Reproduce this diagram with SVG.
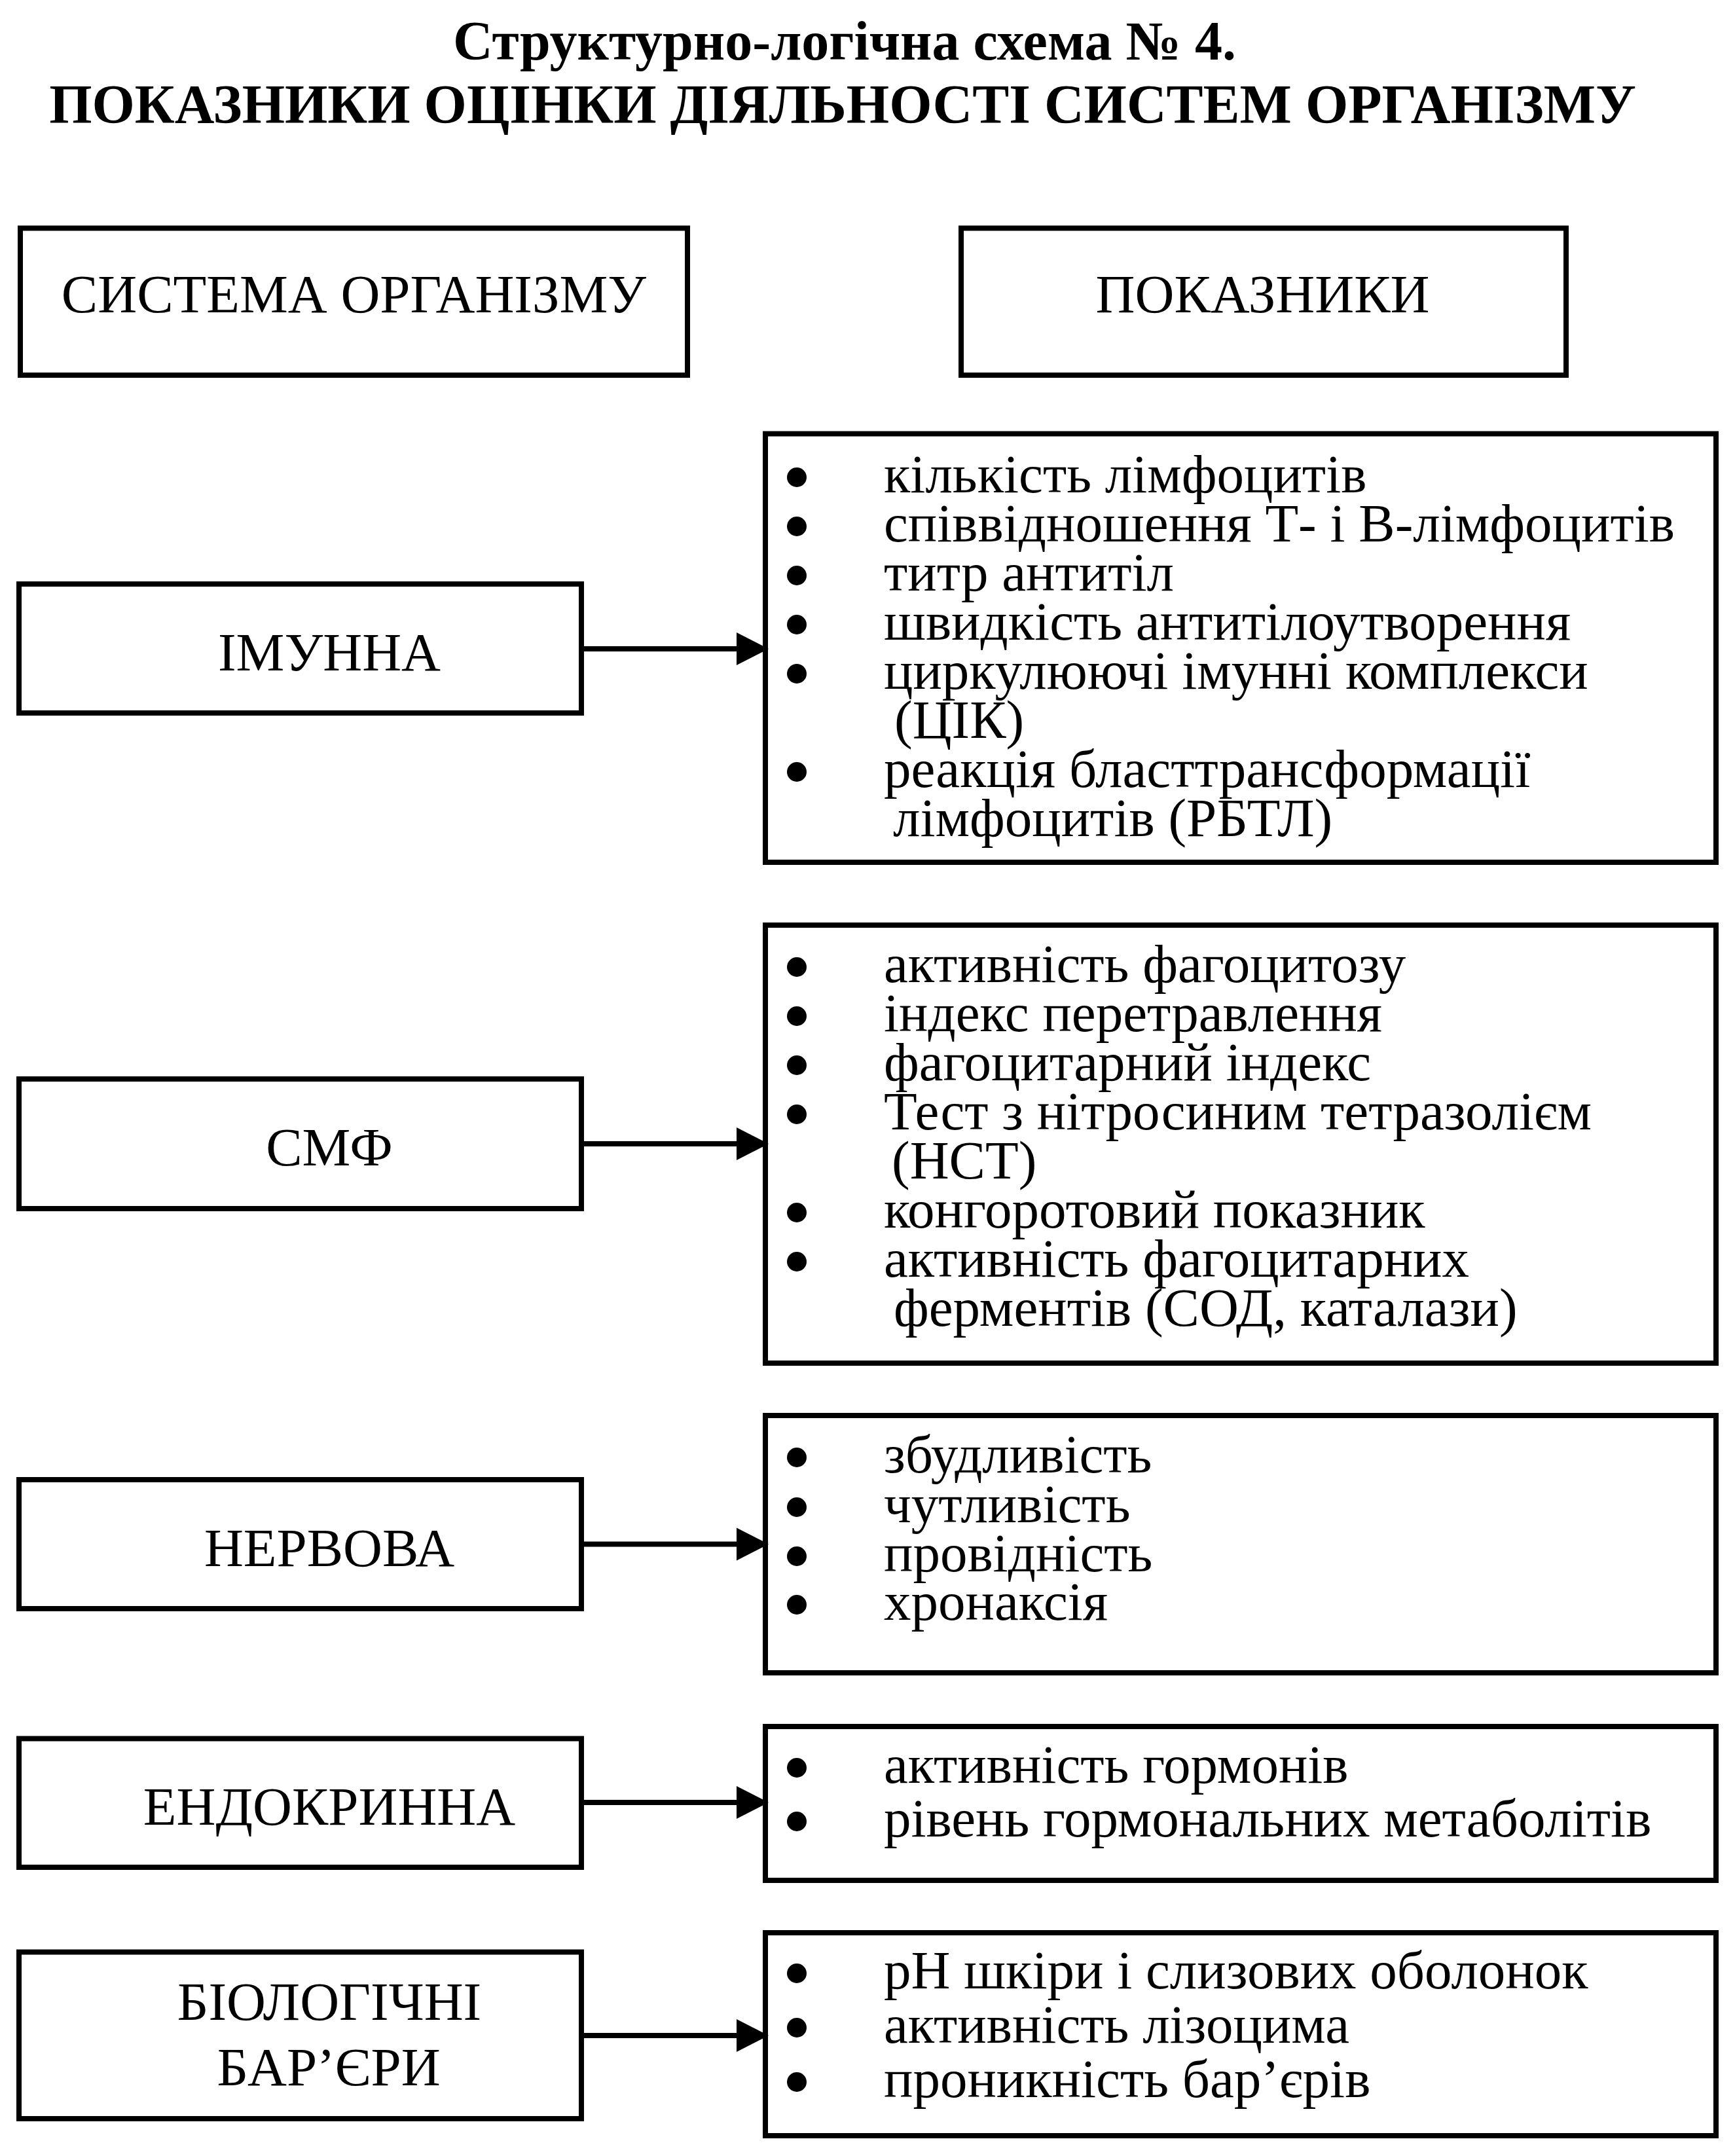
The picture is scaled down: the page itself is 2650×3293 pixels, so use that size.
<svg xmlns="http://www.w3.org/2000/svg" width="2650" height="3293" viewBox="0 0 2650 3293">
<style>
.box{fill:none;stroke:#000;stroke-width:8}
.t{font-family:"Liberation Serif","Times New Roman",serif;font-size:83px;fill:#000}
.c{text-anchor:middle}
.h{font-family:"Liberation Serif","Times New Roman",serif;font-size:84px;font-weight:bold;fill:#000;text-anchor:middle}
.conn line{stroke:#000;stroke-width:8}
.conn polygon{fill:#000}
.b{fill:#000}
</style>
<rect width="2650" height="3293" fill="#fff"/>
<g id="title">
<text class="h" x="1290" y="91">Структурно-логічна схема № 4.</text>
<text class="h" x="1287" y="188">ПОКАЗНИКИ ОЦІНКИ ДІЯЛЬНОСТІ СИСТЕМ ОРГАНІЗМУ</text>
</g>
<g id="hdr-system">
<rect class="box" x="31" y="348.5" width="1019" height="224.5"/>
<text class="t c" x="540.5" y="477">СИСТЕМА ОРГАНІЗМУ</text>
</g>
<g id="hdr-indicators">
<rect class="box" x="1468" y="348.5" width="924" height="224.5"/>
<text class="t c" x="1928.5" y="477">ПОКАЗНИКИ</text>
</g>
<g id="sys-immune">
<rect class="box" x="29" y="892" width="859" height="197"/>
<text class="t c" x="503" y="1024">ІМУННА</text>
</g>
<g id="sys-smf">
<rect class="box" x="29" y="1648" width="859" height="198"/>
<text class="t c" x="503" y="1779.5">СМФ</text>
</g>
<g id="sys-nerve">
<rect class="box" x="29" y="2260" width="859" height="197"/>
<text class="t c" x="503" y="2392">НЕРВОВА</text>
</g>
<g id="sys-endo">
<rect class="box" x="29" y="2655.5" width="859" height="196.5"/>
<text class="t c" x="503" y="2787">ЕНДОКРИННА</text>
</g>
<g id="sys-bio">
<rect class="box" x="29" y="2981.5" width="859" height="254.5"/>
<text class="t c" x="503" y="3085">БІОЛОГІЧНІ</text>
<text class="t c" x="502" y="3184.5">БАР’ЄРИ</text>
</g>
<g id="ind-immune">
<rect class="box" x="1169" y="662.5" width="1452" height="654.5"/>
<circle class="b" cx="1217" cy="729" r="15"/>
<circle class="b" cx="1217" cy="804" r="15"/>
<circle class="b" cx="1217" cy="879" r="15"/>
<circle class="b" cx="1217" cy="954" r="15"/>
<circle class="b" cx="1217" cy="1029" r="15"/>
<circle class="b" cx="1217" cy="1179" r="15"/>
<text class="t" x="1350" y="752">кількість лімфоцитів</text>
<text class="t" x="1350" y="827">співвідношення Т- і В-лімфоцитів</text>
<text class="t" x="1350" y="902">титр антитіл</text>
<text class="t" x="1350" y="977">швидкість антитілоутворення</text>
<text class="t" x="1350" y="1052">циркулюючі імунні комплекси</text>
<text class="t" x="1366" y="1127">(ЦІК)</text>
<text class="t" x="1350" y="1202">реакція бласттрансформації</text>
<text class="t" x="1364" y="1277">лімфоцитів (РБТЛ)</text>
</g>
<g id="ind-smf">
<rect class="box" x="1169" y="1413" width="1452" height="669"/>
<circle class="b" cx="1217" cy="1477" r="15"/>
<circle class="b" cx="1217" cy="1552" r="15"/>
<circle class="b" cx="1217" cy="1627" r="15"/>
<circle class="b" cx="1217" cy="1702" r="15"/>
<circle class="b" cx="1217" cy="1852" r="15"/>
<circle class="b" cx="1217" cy="1927" r="15"/>
<text class="t" x="1350" y="1500">активність фагоцитозу</text>
<text class="t" x="1350" y="1575">індекс перетравлення</text>
<text class="t" x="1350" y="1650">фагоцитарний індекс</text>
<text class="t" x="1350" y="1725">Тест з нітросиним тетразолієм</text>
<text class="t" x="1362" y="1800">(НСТ)</text>
<text class="t" x="1350" y="1875">конгоротовий показник</text>
<text class="t" x="1350" y="1950">активність фагоцитарних</text>
<text class="t" x="1365" y="2025">ферментів (СОД, каталази)</text>
</g>
<g id="ind-nerve">
<rect class="box" x="1169" y="2162" width="1452" height="393"/>
<circle class="b" cx="1217" cy="2226" r="15"/>
<circle class="b" cx="1217" cy="2302" r="15"/>
<circle class="b" cx="1217" cy="2377" r="15"/>
<circle class="b" cx="1217" cy="2451" r="15"/>
<text class="t" x="1350" y="2249">збудливість</text>
<text class="t" x="1350" y="2325">чутливість</text>
<text class="t" x="1350" y="2400">провідність</text>
<text class="t" x="1350" y="2474">хронаксія</text>
</g>
<g id="ind-endo">
<rect class="box" x="1169" y="2637" width="1452" height="235"/>
<circle class="b" cx="1217" cy="2700" r="15"/>
<circle class="b" cx="1217" cy="2782" r="15"/>
<text class="t" x="1350" y="2723">активність гормонів</text>
<text class="t" x="1350" y="2805">рівень гормональних метаболітів</text>
</g>
<g id="ind-bio">
<rect class="box" x="1169" y="2952" width="1452" height="310"/>
<circle class="b" cx="1217" cy="3014" r="15"/>
<circle class="b" cx="1217" cy="3097" r="15"/>
<circle class="b" cx="1217" cy="3180" r="15"/>
<text class="t" x="1350" y="3037">рН шкіри і слизових оболонок</text>
<text class="t" x="1350" y="3120">активність лізоцима</text>
<text class="t" x="1350" y="3203">проникність бар’єрів</text>
</g>
<g id="connectors" class="conn">
<line x1="892" y1="991" x2="1130" y2="991"/>
<polygon points="1125,966 1174,991 1125,1016"/>
<line x1="892" y1="1747" x2="1130" y2="1747"/>
<polygon points="1125,1722 1174,1747 1125,1772"/>
<line x1="892" y1="2358.5" x2="1130" y2="2358.5"/>
<polygon points="1125,2333.5 1174,2358.5 1125,2383.5"/>
<line x1="892" y1="2753" x2="1130" y2="2753"/>
<polygon points="1125,2728 1174,2753 1125,2778"/>
<line x1="892" y1="3109" x2="1130" y2="3109"/>
<polygon points="1125,3084 1174,3109 1125,3134"/>
</g>
</svg>
